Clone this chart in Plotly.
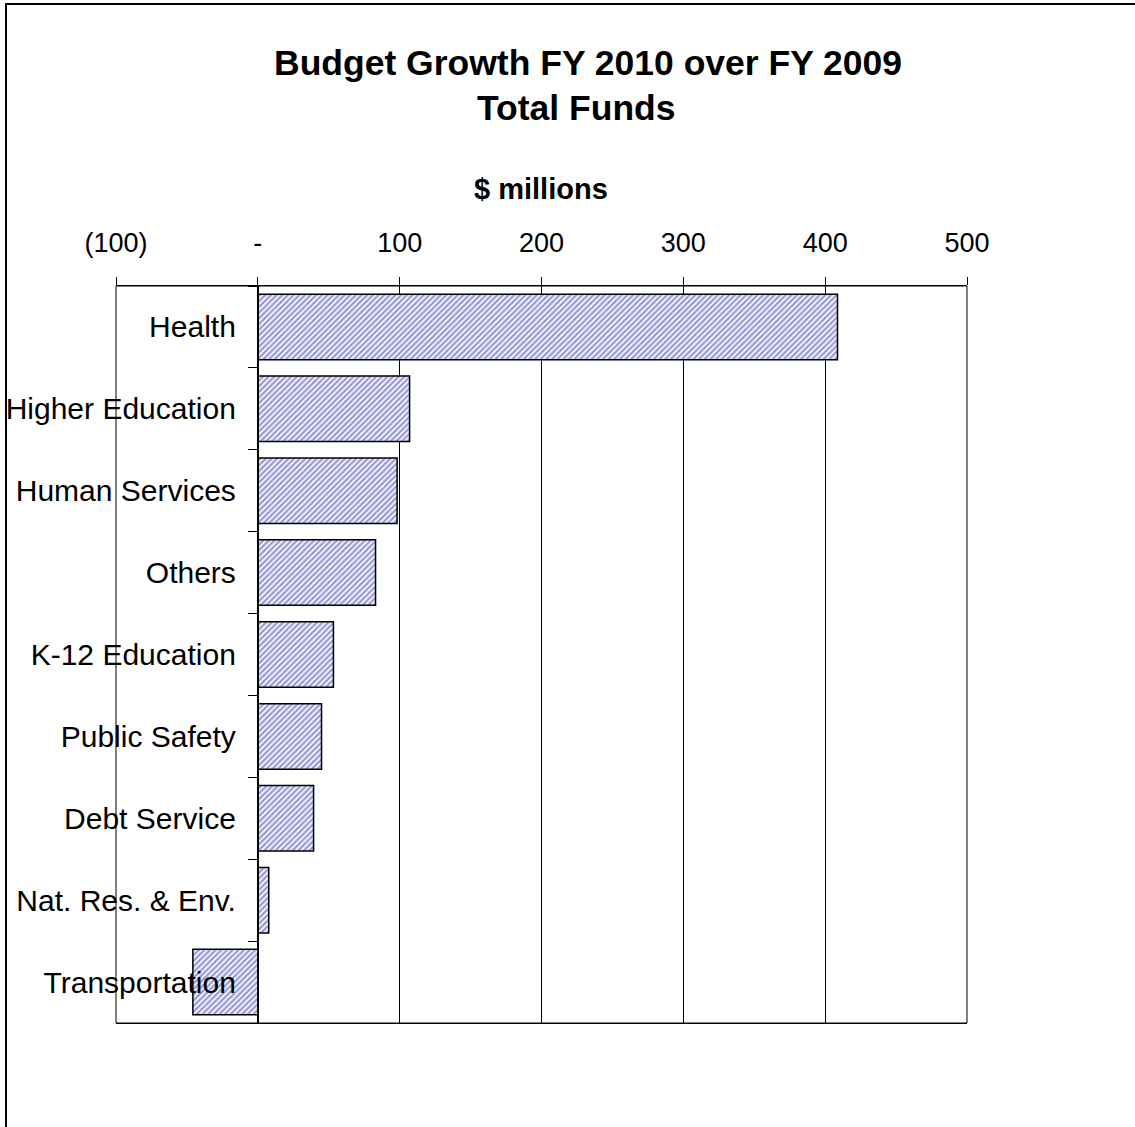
import plotly.graph_objects as go

# Budget growth by function, FY 2010 vs FY 2009 ($ millions)
categories = [
    "Health",
    "Higher Education",
    "Human Services",
    "Others",
    "K-12 Education",
    "Public Safety",
    "Debt Service",
    "Nat. Res. & Env.",
    "Transportation",
]
growth = [408.7, 107.0, 98.2, 83.0, 53.3, 44.9, 39.3, 7.7, -45.8]

tick_values = [-100, 0, 100, 200, 300, 400, 500]
tick_labels = ["(100)", "-", "100", "200", "300", "400", "500"]

W, H = 1135, 1127
L, R, T, B = 116, 967, 286, 1023  # plot area in pixels
FONT = "Liberation Sans, Arial, sans-serif"


def px_x(p):
    return (p - L) / (R - L)


def px_y(p):
    return (B - p) / (B - T)


x_min, x_max = -100, 500
zero_frac = (0 - x_min) / (x_max - x_min)

fig = go.Figure(
    go.Bar(
        y=categories,
        x=growth,
        orientation="h",
        marker=dict(
            color="white",
            line=dict(color="black", width=1.5),
            pattern=dict(shape="/", fgcolor="#3434b4", bgcolor="white",
                         size=4, solidity=0.6),
        ),
        width=0.8,
        hoverinfo="x+y",
    )
)

fig.update_layout(
    width=W,
    height=H,
    margin=dict(l=L, r=W - R, t=T, b=H - B, pad=0),
    paper_bgcolor="white",
    plot_bgcolor="white",
    showlegend=False,
    font=dict(family=FONT, color="black"),
    xaxis=dict(
        range=[x_min, x_max],
        side="top",
        tickvals=tick_values,
        ticktext=tick_labels,
        ticks="outside",
        ticklen=8,
        tickcolor="black",
        tickfont=dict(size=27, color="black"),
        ticklabelstandoff=14,
        showgrid=True,
        gridcolor="black",
        gridwidth=1,
        zeroline=False,
        showline=True,
        linecolor="black",
        mirror=True,
        automargin=False,
        fixedrange=True,
    ),
    yaxis=dict(
        categoryorder="array",
        categoryarray=categories,
        autorange="reversed",
        anchor="free",
        position=zero_frac,
        ticks="outside",
        tickson="boundaries",
        ticklen=10,
        tickcolor="black",
        tickfont=dict(size=30, color="black"),
        ticklabelstandoff=16,
        showgrid=False,
        zeroline=False,
        showline=True,
        linecolor="black",
        automargin=False,
        fixedrange=True,
    ),
    bargap=0.2,
)

# plot-area border
fig.add_shape(type="rect", xref="paper", yref="paper", x0=0, x1=1, y0=0, y1=1,
              line=dict(color="black", width=1), layer="above")

# chart frame
fig.add_shape(type="rect", xref="paper", yref="paper",
              x0=px_x(6), x1=px_x(1200), y0=px_y(1200), y1=px_y(4),
              line=dict(color="black", width=2), layer="below")

fig.add_annotation(text="<b>Budget Growth FY 2010 over FY 2009</b>",
                   xref="paper", yref="paper", x=px_x(588), y=px_y(63),
                   xanchor="center", yanchor="middle", showarrow=False,
                   font=dict(size=35.5, family=FONT, color="black"))
fig.add_annotation(text="<b>Total Funds</b>",
                   xref="paper", yref="paper", x=px_x(576), y=px_y(108),
                   xanchor="center", yanchor="middle", showarrow=False,
                   font=dict(size=35.5, family=FONT, color="black"))
fig.add_annotation(text="<b>$ millions</b>",
                   xref="paper", yref="paper", x=px_x(541), y=px_y(189),
                   xanchor="center", yanchor="middle", showarrow=False,
                   font=dict(size=29, family=FONT, color="black"))

fig.write_html("out.html")
